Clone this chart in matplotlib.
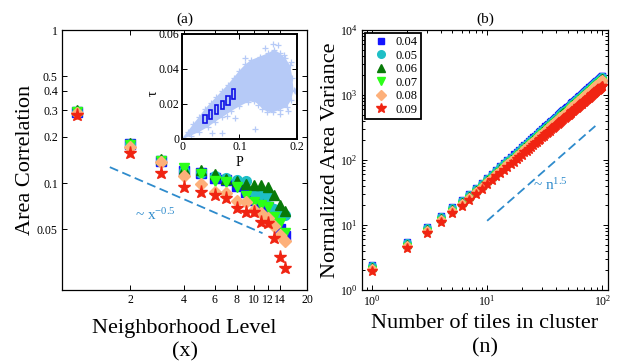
import matplotlib
matplotlib.use("Agg")
import matplotlib.pyplot as plt
from matplotlib.ticker import FixedLocator, FixedFormatter, NullLocator, LogLocator

plt.rcParams['font.family'] = ['Liberation Serif', 'DejaVu Serif']
plt.rcParams['mathtext.fontset'] = 'custom'
plt.rcParams['mathtext.rm'] = 'Liberation Serif'
plt.rcParams['mathtext.it'] = 'Liberation Serif:italic'
plt.rcParams['mathtext.bf'] = 'Liberation Serif:bold'

# ---------------- data ----------------
series_labels = ['0.04', '0.05', '0.06', '0.07', '0.08', '0.09']
colors = ['#1414ff', '#1ebfc6', '#087a08', '#2cff18', '#fdb07a', '#f02412']
markers = ['s', 'o', '^', 'v', 'D', '*']

# (a) area correlation vs neighborhood level
levels = list(range(1, 16))
corr_004 = [0.29, 0.18, 0.14, 0.12, 0.116, 0.108, 0.104, 0.096, 0.087, 0.077, 0.074, 0.070, 0.062, 0.050, 0.045]
corr_005 = [0.29, 0.18, 0.14, 0.12, 0.116, 0.112, 0.108, 0.104, 0.103, 0.087, 0.085, 0.082, 0.068, 0.063, 0.062]
corr_006 = [0.30, 0.182, 0.143, 0.123, 0.121, 0.114, 0.106, 0.103, 0.098, 0.097, 0.097, 0.094, 0.083, 0.072, 0.066]
corr_007 = [0.29, 0.176, 0.14, 0.125, 0.114, 0.103, 0.101, 0.094, 0.082, 0.075, 0.072, 0.070, 0.060, 0.055, 0.047]
corr_008 = [0.285, 0.172, 0.138, 0.111, 0.099, 0.088, 0.086, 0.076, 0.075, 0.067, 0.064, 0.059, 0.052, 0.046, 0.042]
corr_009 = [0.278, 0.157, 0.116, 0.094, 0.087, 0.083, 0.080, 0.069, 0.065, 0.065, 0.056, 0.055, 0.044, 0.033, 0.028]
corr_series = [corr_004, corr_005, corr_006, corr_007, corr_008, corr_009]

guide_a_x = [1.53, 11.2]
guide_a_y = [0.127, 0.047]

# inset: tau vs P cloud outline, outliers and boxes
cloud_P = [0.0, 0.01, 0.02, 0.03, 0.04, 0.05, 0.06, 0.07, 0.08, 0.09, 0.1, 0.11, 0.12, 0.135, 0.15,
           0.16, 0.17, 0.18, 0.188, 0.192, 0.194, 0.19, 0.182, 0.17, 0.158, 0.148, 0.14, 0.133,
           0.125, 0.115, 0.1, 0.086, 0.07, 0.057, 0.045, 0.03, 0.015, 0.005]
cloud_tau = [0.0, 0.004, 0.0085, 0.0125, 0.017, 0.0205, 0.024, 0.0275, 0.031, 0.035, 0.039, 0.0425,
             0.045, 0.047, 0.049, 0.051, 0.049, 0.046, 0.042, 0.035, 0.028, 0.022, 0.018, 0.0165,
             0.015, 0.0155, 0.017, 0.0195, 0.0215, 0.021, 0.0185, 0.0158, 0.0122, 0.0095, 0.0066,
             0.0038, 0.0016, 0.0003]
outlier_P = [0.052, 0.069, 0.078, 0.092, 0.127, 0.158, 0.197, 0.162, 0.175, 0.167, 0.145, 0.19,
             0.185, 0.11, 0.17, 0.178, 0.155, 0.183]
outlier_tau = [0.0033, 0.0033, 0.013, 0.012, 0.0052, 0.054, 0.027, 0.0225, 0.02, 0.0535, 0.052,
               0.044, 0.016, 0.046, 0.014, 0.048, 0.0175, 0.0305]
box_P = [0.04, 0.05, 0.06, 0.07, 0.08, 0.09]
box_low = [0.009, 0.0113, 0.0142, 0.0168, 0.0195, 0.0229]
box_high = [0.0136, 0.0162, 0.019, 0.0214, 0.0242, 0.0283]

# (b) normalized area variance vs cluster size
tiles = list(range(1, 101))
var_004 = [2.43, 5.5, 9.4, 13.7, 19.1, 24.2, 30.5, 37, 45, 53,
           61.6, 70.6, 80.0, 89.9, 100, 111, 122, 133, 145, 157,
           170, 183, 196, 210, 223, 238, 252, 267, 282, 297,
           313, 329, 345, 362, 379, 396, 414, 431, 449, 467,
           486, 504, 524, 543, 562, 582, 602, 622, 643, 663,
           684, 705, 727, 749, 771, 793, 815, 837, 860, 883,
           906, 930, 953, 977, 1001, 1025, 1050, 1075, 1100, 1125,
           1150, 1176, 1202, 1227, 1254, 1280, 1307, 1333, 1360, 1388,
           1415, 1442, 1470, 1498, 1526, 1554, 1582, 1611, 1640, 1669,
           1698, 1728, 1757, 1787, 1817, 1847, 1877, 1907, 1938, 1970]
var_005 = [2.33, 5.28, 9.02, 13.2, 18.3, 23.2, 29.3, 35.5, 43.2, 50.9,
           59.1, 67.8, 76.8, 86.3, 96.0, 107, 117, 128, 139, 151,
           163, 176, 188, 202, 214, 228, 242, 256, 271, 285,
           300, 316, 331, 348, 364, 380, 397, 414, 431, 448,
           467, 484, 503, 521, 540, 559, 578, 597, 617, 636,
           657, 677, 698, 719, 740, 761, 782, 804, 826, 848,
           870, 893, 915, 938, 961, 984, 1008, 1032, 1056, 1080,
           1104, 1129, 1154, 1178, 1204, 1229, 1255, 1280, 1306, 1332,
           1358, 1384, 1411, 1438, 1465, 1492, 1519, 1547, 1574, 1602,
           1630, 1659, 1687, 1716, 1744, 1773, 1802, 1831, 1860, 1891]
var_006 = [2.26, 5.12, 8.74, 12.7, 17.8, 22.5, 28.4, 34.4, 41.9, 49.3,
           57.3, 65.7, 74.4, 83.6, 93.0, 103, 113, 124, 135, 146,
           158, 170, 182, 195, 207, 221, 234, 248, 262, 276,
           291, 306, 321, 337, 352, 368, 385, 401, 418, 434,
           452, 469, 487, 505, 523, 541, 560, 578, 598, 617,
           636, 656, 676, 697, 717, 737, 758, 778, 800, 821,
           843, 865, 886, 909, 931, 953, 977, 1000, 1023, 1046,
           1070, 1094, 1118, 1141, 1166, 1190, 1216, 1240, 1265, 1291,
           1316, 1341, 1367, 1393, 1419, 1445, 1471, 1498, 1525, 1552,
           1579, 1607, 1634, 1662, 1690, 1718, 1746, 1774, 1802, 1832]
var_007 = [2.02, 4.57, 7.80, 11.4, 15.9, 20.1, 25.3, 30.7, 37.4, 44.0,
           51.1, 58.6, 66.4, 74.6, 83.0, 92.1, 101, 110, 120, 130,
           141, 152, 163, 174, 185, 198, 209, 222, 234, 247,
           260, 273, 286, 300, 315, 329, 344, 358, 373, 388,
           403, 418, 435, 451, 466, 483, 500, 516, 534, 550,
           568, 585, 603, 622, 640, 658, 676, 695, 714, 733,
           752, 772, 791, 811, 831, 851, 872, 892, 913, 934,
           955, 976, 998, 1018, 1041, 1062, 1085, 1106, 1129, 1152,
           1174, 1197, 1220, 1243, 1267, 1290, 1313, 1337, 1361, 1385,
           1409, 1434, 1458, 1483, 1508, 1533, 1558, 1583, 1609, 1635]
var_008 = [2.09, 4.73, 8.08, 11.8, 16.4, 20.8, 26.2, 31.8, 38.7, 45.6,
           53.0, 60.7, 68.8, 77.3, 86.0, 95.5, 105, 114, 125, 135,
           146, 157, 169, 181, 192, 205, 217, 230, 243, 255,
           269, 283, 297, 311, 326, 341, 356, 371, 386, 402,
           418, 433, 451, 467, 483, 501, 518, 535, 553, 570,
           588, 606, 625, 644, 663, 682, 701, 720, 740, 759,
           779, 800, 820, 840, 861, 882, 903, 925, 946, 968,
           989, 1011, 1034, 1055, 1078, 1101, 1124, 1146, 1170, 1194,
           1217, 1240, 1264, 1288, 1312, 1336, 1361, 1385, 1410, 1435,
           1460, 1486, 1511, 1537, 1563, 1588, 1614, 1640, 1667, 1694]
var_009 = [1.94, 4.40, 7.52, 11.0, 15.3, 19.4, 24.4, 29.6, 36.0, 42.4,
           49.0, 55.9, 63.1, 70.6, 78.4, 86.6, 94.8, 103, 112, 121,
           131, 140, 150, 160, 169, 180, 191, 202, 213, 223,
           235, 247, 258, 270, 283, 295, 308, 320, 333, 346,
           359, 372, 386, 400, 413, 427, 441, 455, 470, 484,
           499, 513, 529, 545, 560, 575, 590, 606, 622, 638,
           653, 671, 686, 702, 720, 736, 753, 771, 788, 804,
           822, 840, 858, 875, 893, 911, 929, 948, 966, 985,
           1003, 1022, 1041, 1059, 1079, 1097, 1117, 1136, 1156, 1177,
           1195, 1217, 1235, 1256, 1276, 1297, 1316, 1337, 1357, 1379]
var_series = [var_004, var_005, var_006, var_007, var_008, var_009]

guide_b_x = [10, 87]
guide_b_y = [11.6, 334]

guide_color = '#2e8bcc'
cloud_color = '#b6caf7'

# ---------------- figure ----------------
fig = plt.figure(figsize=(6.18, 3.62), dpi=100)

def style_axes(ax, lw=0.9):
    for s in ax.spines.values():
        s.set_linewidth(lw)
        s.set_color('black')
    ax.tick_params(which='both', direction='in', top=True, right=True,
                   labelsize=8.5, width=0.7, pad=3)
    ax.tick_params(which='major', length=3.5)
    ax.tick_params(which='minor', length=2)

# ----- panel (a)
axa = fig.add_axes([0.1003, 0.1989, 0.3965, 0.7182])
ms_a = [6.5, 7, 7, 7, 6.5, 9.5]
for vals, c, m, s in zip(corr_series, colors, markers, ms_a):
    axa.plot(levels, vals, linestyle='none', marker=m, color=c,
             markeredgecolor=c, markersize=s)
axa.plot(guide_a_x, guide_a_y, color=guide_color, lw=1.3, dashes=(5, 2.5))
axa.text(0.298, 0.269, '~ $\\mathregular{x^{-0.5}}$', transform=axa.transAxes,
         color=guide_color, fontsize=11, va='baseline', ha='left')
axa.set_xscale('log')
axa.set_yscale('log')
axa.set_xlim(0.82, 20)
axa.set_ylim(0.02, 1)
xt = [2, 4, 6, 8, 10, 12, 14, 20]
axa.xaxis.set_major_locator(FixedLocator(xt))
axa.xaxis.set_major_formatter(FixedFormatter([str(v) for v in xt]))
axa.xaxis.set_minor_locator(NullLocator())
yt = [0.05, 0.1, 0.2, 0.3, 0.4, 0.5, 1]
axa.yaxis.set_major_locator(FixedLocator(yt))
axa.yaxis.set_major_formatter(FixedFormatter(['0.05', '0.1', '0.2', '0.3', '0.4', '0.5', '1']))
axa.yaxis.set_minor_locator(NullLocator())
style_axes(axa)
axa.set_title('(a)', fontsize=11, pad=5)
axa.set_xlabel('Neighborhood Level\n(x)', fontsize=16, linespacing=1.25)
axa.xaxis.set_label_coords(0.5, -0.113)
axa.set_ylabel('Area Correlation', fontsize=16)
axa.yaxis.set_label_coords(-0.11, 0.5)

# ----- inset
axi = fig.add_axes([0.2945, 0.6174, 0.186, 0.2887])
axi.fill(cloud_P, cloud_tau, color=cloud_color, lw=0, zorder=1)
axi.plot(cloud_P, cloud_tau, linestyle='none', marker='+', color=cloud_color,
         markersize=5, mew=0.9, zorder=1)
axi.plot(outlier_P, outlier_tau, linestyle='none', marker='+', color=cloud_color,
         markersize=5, mew=0.9, zorder=1)
axi.bar(box_P, [h - l for h, l in zip(box_high, box_low)], bottom=box_low,
        width=0.0055, fill=False, edgecolor='#1010e6', linewidth=1.2, zorder=3)
axi.set_xlim(0, 0.2)
axi.set_ylim(0, 0.06)
axi.xaxis.set_major_locator(FixedLocator([0, 0.1, 0.2]))
axi.xaxis.set_major_formatter(FixedFormatter(['0', '0.1', '0.2']))
axi.yaxis.set_major_locator(FixedLocator([0, 0.02, 0.04, 0.06]))
axi.yaxis.set_major_formatter(FixedFormatter(['0', '0.02', '0.04', '0.06']))
style_axes(axi, lw=1.4)
axi.tick_params(pad=2)
axi.set_xlabel('P', fontsize=10)
axi.xaxis.set_label_coords(0.5, -0.17)
axi.set_ylabel('τ', fontsize=10)
axi.yaxis.set_label_coords(-0.19, 0.43)

# ----- panel (b)
axb = fig.add_axes([0.5858, 0.1989, 0.398, 0.7182])
ms_b = [5, 5.5, 5.5, 5.5, 5, 7.5]
lines = []
for vals, c, m, s, lab in zip(var_series, colors, markers, ms_b, series_labels):
    ln, = axb.plot(tiles, vals, linestyle='none', marker=m, color=c,
                   markeredgecolor=c, markersize=s, label=lab)
    lines.append(ln)
axb.plot(guide_b_x, guide_b_y, color=guide_color, lw=1.3, dashes=(5, 2.5))
axb.text(0.695, 0.385, '~ $\\mathregular{n^{1.5}}$', transform=axb.transAxes,
         color=guide_color, fontsize=11, va='baseline', ha='left')
axb.set_xscale('log')
axb.set_yscale('log')
axb.set_xlim(0.82, 112)
axb.set_ylim(1, 1e4)
axb.xaxis.set_major_locator(LogLocator(base=10, numticks=10))
axb.yaxis.set_major_locator(LogLocator(base=10, numticks=10))
axb.xaxis.set_minor_locator(LogLocator(base=10, subs=range(2, 10), numticks=20))
axb.yaxis.set_minor_locator(LogLocator(base=10, subs=range(2, 10), numticks=20))
style_axes(axb)
axb.set_title('(b)', fontsize=11, pad=5)
axb.set_xlabel('Number of tiles in cluster\n(n)', fontsize=16, linespacing=1.35)
axb.xaxis.set_label_coords(0.5, -0.093)
axb.set_ylabel('Normalized Area Variance', fontsize=16)
axb.yaxis.set_label_coords(-0.088, 0.5)
leg = axb.legend(handles=lines, loc='upper left', bbox_to_anchor=(0.012, 0.988),
                 borderaxespad=0, fontsize=9, handlelength=2.0, handletextpad=0.2,
                 borderpad=0.25, labelspacing=0.12, fancybox=False, framealpha=1,
                 edgecolor='black', numpoints=1)
leg.get_frame().set_linewidth(1.3)

fig.savefig('out.png', dpi=100)
